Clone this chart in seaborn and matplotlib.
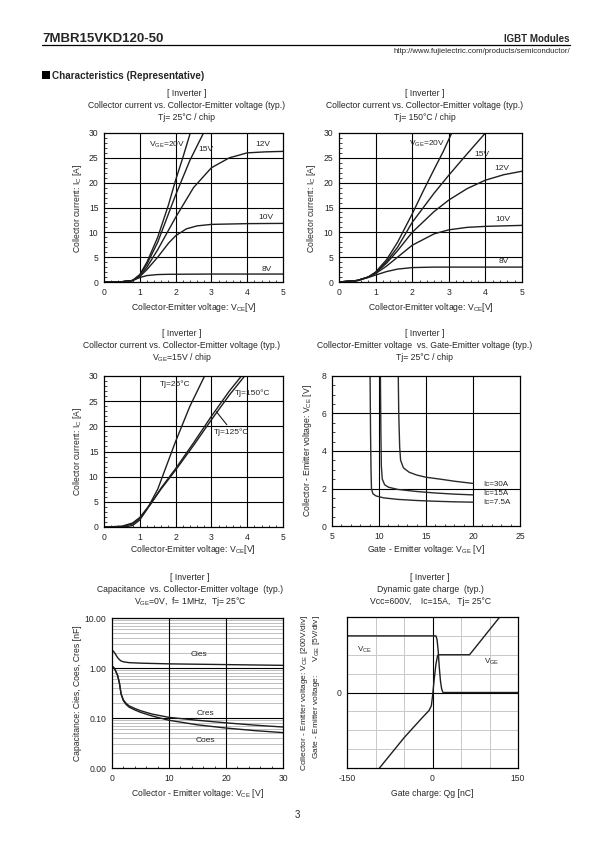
"""Datasheet page: IGBT module characteristics (6 panels)."""
import numpy as np
import pandas as pd
import matplotlib
matplotlib.use("Agg")
import matplotlib.pyplot as plt
import seaborn as sns
from matplotlib.ticker import MultipleLocator, FixedLocator, NullLocator

W, H = 595, 842

# ---- panel 1: Ic vs Vce, Tj=25C ----
vce_25 = {
    "20V": ([0, 0.5, 0.8, 1.0, 1.2, 1.5, 1.8, 2.0, 2.2, 2.41],
            [0, 0.05, 0.3, 1.5, 4.0, 9.0, 15.5, 20.5, 25.0, 30.0]),
    "15V": ([0, 0.5, 0.8, 1.0, 1.2, 1.5, 2.0, 2.4, 2.78],
            [0, 0.05, 0.3, 1.4, 3.6, 8.0, 17.5, 24.5, 30.0]),
    "12V": ([0, 0.5, 0.8, 1.0, 1.2, 1.5, 2.0, 2.5, 3.0, 3.5, 4.0, 4.5, 5.0],
            [0, 0.05, 0.3, 1.2, 3.0, 6.5, 13.0, 19.0, 23.0, 25.0, 26.0, 26.2, 26.3]),
    "10V": ([0, 0.5, 0.8, 1.0, 1.2, 1.5, 1.8, 2.0, 2.3, 2.6, 3.0, 4.0, 5.0],
            [0, 0.05, 0.3, 1.1, 2.5, 5.0, 7.8, 9.3, 10.7, 11.3, 11.6, 11.75, 11.8]),
    "8V": ([0, 0.5, 0.8, 1.0, 1.2, 1.5, 1.8, 3.0, 5.0],
           [0, 0.05, 0.3, 0.9, 1.3, 1.5, 1.55, 1.6, 1.6]),
}

# ---- panel 2: Ic vs Vce, Tj=150C ----
vce_150 = {
    "20V": ([0, 0.5, 0.8, 1.0, 1.3, 1.6, 2.0, 2.3, 2.6, 2.85, 3.08],
            [0, 0.3, 1.0, 2.0, 4.5, 8.0, 13.7, 18.3, 22.7, 26.3, 30.0]),
    "15V": ([0, 0.5, 0.8, 1.0, 1.3, 1.6, 2.0, 2.6, 3.0, 3.5, 4.0],
            [0, 0.3, 1.0, 1.9, 4.1, 7.0, 12.0, 17.9, 21.5, 25.8, 30.0]),
    "12V": ([0, 0.5, 0.8, 1.0, 1.3, 1.6, 2.0, 2.6, 3.0, 3.5, 4.0, 4.5, 5.0],
            [0, 0.3, 1.0, 1.8, 3.8, 6.3, 10.0, 14.2, 16.5, 18.8, 20.5, 21.6, 22.3]),
    "10V": ([0, 0.5, 0.8, 1.0, 1.3, 1.6, 2.0, 2.6, 3.0, 3.5, 4.0, 5.0],
            [0, 0.3, 1.0, 1.7, 3.2, 5.0, 7.4, 9.7, 10.5, 11.0, 11.2, 11.4]),
    "8V": ([0, 0.5, 0.8, 1.0, 1.3, 1.6, 2.0, 2.6, 3.0, 5.0],
           [0, 0.3, 0.9, 1.4, 2.1, 2.6, 2.9, 3.0, 3.0, 3.0]),
}
labels_25 = [("V$_{\\mathregular{GE}}$=20V", 1.75, 27.6), ("15V", 2.86, 26.6),
             ("12V", 4.44, 27.6), ("10V", 4.53, 12.9), ("8V", 4.55, 2.5)]
labels_150 = [("V$_{\\mathregular{GE}}$=20V", 2.4, 27.9), ("15V", 3.9, 25.6),
              ("12V", 4.44, 22.9), ("10V", 4.49, 12.5), ("8V", 4.49, 4.2)]

# ---- panel 3: Ic vs Vce, Vge=15V ----
tj_curves = {
    "25": ([0, 0.6, 0.8, 1.0, 1.2, 1.5, 2.0, 2.4, 2.81],
           [0, 0.05, 0.3, 1.4, 3.5, 7.5, 17.0, 24.0, 30.0]),
    "125": ([0, 0.5, 0.8, 1.0, 1.3, 1.6, 2.0, 2.5, 3.0, 3.5, 3.84],
            [0, 0.1, 0.6, 1.7, 4.5, 7.8, 11.6, 16.7, 22.0, 27.0, 30.0]),
    "150": ([0, 0.5, 0.8, 1.0, 1.3, 1.6, 2.0, 2.5, 3.0, 3.5, 3.93],
            [0, 0.15, 0.8, 1.9, 4.6, 7.6, 11.3, 16.2, 21.3, 26.2, 30.0]),
}

# ---- panel 4: Vce vs Vge ----
vge_curves = {
    "Ic=30A": ([12.05, 12.1, 12.2, 12.3, 12.6, 13.2, 14, 15, 16.5, 18, 20],
               [8, 6, 4.2, 3.5, 3.1, 2.87, 2.72, 2.6, 2.5, 2.39, 2.27]),
    "Ic=15A": ([10.15, 10.2, 10.25, 10.35, 10.6, 11, 12, 14, 16, 18, 20],
               [8, 5, 3.2, 2.5, 2.2, 2.07, 1.95, 1.84, 1.76, 1.70, 1.66]),
    "Ic=7.5A": ([9.05, 9.1, 9.15, 9.2, 9.35, 9.7, 10.5, 12, 14, 16, 18, 20],
                [8, 5, 3, 2.0, 1.72, 1.6, 1.5, 1.42, 1.36, 1.32, 1.29, 1.27]),
}
ic_labels = [("Ic=30A", 2.22), ("Ic=15A", 1.74), ("Ic=7.5A", 1.24)]

# ---- panel 5: capacitance ----
cies_v = [0.2, 0.6, 1.0, 1.5, 2.0, 3, 5, 10, 15, 20, 25, 30]
cies_c = [2.2, 1.9, 1.6, 1.4, 1.33, 1.28, 1.25, 1.21, 1.19, 1.17, 1.15, 1.13]
cap_v = [0.2, 0.5, 1.0, 1.3, 1.6, 2.0, 2.5, 3, 4, 5, 7, 10, 15, 20, 25, 30]
cres_c = [1.05, 0.95, 0.7, 0.5, 0.3, 0.23, 0.195, 0.175, 0.155, 0.14, 0.12,
          0.103, 0.09, 0.08, 0.072, 0.066]
coes_c = [1.05, 0.95, 0.7, 0.5, 0.3, 0.22, 0.185, 0.165, 0.145, 0.13, 0.11,
          0.09, 0.073, 0.063, 0.056, 0.051]

# ---- panel 6: gate charge (volts) ----
qg_vge = [-93, -50, -20, -6, -2, 0, 3, 6, 9, 11, 65, 118]
vge_v = [-20, -12, -7, -4.75, -3.5, -1, 3.5, 7.5, 9.8, 10, 10, 20]
qg_vce = [-150, 6, 8, 10, 12, 14, 16, 18, 20, 150]
vce_v = [600, 600, 560, 440, 260, 120, 40, 4, 0, 0]

LINE = "#1e1e1e"
FS = 6.2

sns.set_style("ticks")
plt.rcParams["font.family"] = ["Liberation Sans", "DejaVu Sans"]
plt.rcParams["mathtext.fontset"] = "custom"
plt.rcParams["mathtext.rm"] = "Liberation Sans"
plt.rcParams["mathtext.it"] = "Liberation Sans"
plt.rcParams["axes.edgecolor"] = "black"
plt.rcParams["axes.linewidth"] = 0.8
plt.rcParams["axes.unicode_minus"] = False

fig = plt.figure(figsize=(W / 100, H / 100), dpi=100)
fig.patch.set_facecolor("white")


def px_axes(l, t, r, b):
    return fig.add_axes([l / W, 1 - b / H, (r - l) / W, (b - t) / H])


def ftext(x, y, s, **kw):
    kw.setdefault("fontsize", FS)
    fig.text(x / W, 1 - y / H, s, **kw)


def curve(ax, x, y, lw=1.0, color=LINE):
    sns.lineplot(x=np.asarray(x, float), y=np.asarray(y, float), ax=ax,
                 color=color, lw=lw, sort=False, estimator=None, legend=False)


def style(ax):
    ax.tick_params(which="both", direction="in", labelsize=FS, pad=4)
    ax.tick_params(which="major", length=2.5, width=0.6)
    ax.tick_params(which="minor", length=1.8, width=0.6)
    ax.set_xlabel("")
    ax.set_ylabel("")
    for s in ax.spines.values():
        s.set_visible(True)
        s.set_linewidth(0.9)


def titles(cx, y0, cond):
    ftext(cx, y0, "[ Inverter ]", ha="center", va="center")
    ftext(cx, y0 + 12.5, cond[0], ha="center", va="center")
    ftext(cx, y0 + 25, cond[1], ha="center", va="center")


# header
ftext(42, 42, "7MBR15VKD120-50", fontsize=9.5, fontweight="bold", va="baseline")
ftext(570, 42, "IGBT Modules", fontsize=7, fontweight="bold", va="baseline", ha="right")
fig.add_artist(plt.Line2D([42 / W, 570 / W], [1 - 44.5 / H, 1 - 44.5 / H],
                          color="black", lw=0.9))
ftext(570, 53, "http://www.fujielectric.com/products/semiconductor/",
      fontsize=5.6, va="baseline", ha="right")
fig.add_artist(plt.Rectangle((42 / W, 1 - 79 / H), 8 / W, 8.5 / H,
                             color="black", lw=0))
ftext(52, 79, "Characteristics (Representative)", fontsize=7.1,
      fontweight="bold", va="baseline")
ftext(297, 815, "3", fontsize=7, ha="center", va="center")

# ---- panels 1 & 2 ----
for (l, r), data, labs, tj, cx, ylx in [
        ((104, 283), vce_25, labels_25, "Tj= 25°C / chip", 187, 77),
        ((339, 522), vce_150, labels_150, "Tj= 150°C / chip", 425, 312)]:
    ax = px_axes(l, 133, r, 282)
    ax.grid(False)
    for v in [1, 2, 3, 4]:
        ax.axvline(v, color="black", lw=0.8, zorder=1)
    for v in [5, 10, 15, 20, 25]:
        ax.axhline(v, color="black", lw=0.8, zorder=1)
    for k, (x, y) in data.items():
        curve(ax, x, y)
    for s, x, y in labs:
        ax.text(x, y, s, fontsize=FS - 0.2, ha="center", va="center")
    ax.set_xlim(0, 5)
    ax.set_ylim(0, 30)
    ax.xaxis.set_major_locator(MultipleLocator(1))
    ax.xaxis.set_minor_locator(MultipleLocator(0.2))
    ax.yaxis.set_major_locator(MultipleLocator(5))
    ax.yaxis.set_minor_locator(MultipleLocator(1))
    style(ax)
    titles(cx, 93, ["Collector current vs. Collector-Emitter voltage (typ.)", tj])
    ftext(ylx, 208, "Collector current: I$_{\\mathregular{C}}$ [A]",
          rotation=90, ha="center", va="center")
    ftext((l + r) / 2, 307, "Collector-Emitter voltage: V$_{\\mathregular{CE}}$[V]",
          ha="center", va="center")

# ---- panel 3 ----
ax = px_axes(104, 376, 283, 527)
for v in [1, 2, 3, 4]:
    ax.axvline(v, color="black", lw=0.8, zorder=1)
for v in [5, 10, 15, 20, 25]:
    ax.axhline(v, color="black", lw=0.8, zorder=1)
for k, (x, y) in tj_curves.items():
    curve(ax, x, y)
ax.text(1.55, 28.4, "Tj=25°C", fontsize=FS - 0.2, ha="left", va="center")
ax.text(3.65, 26.5, "Tj=150°C", fontsize=FS - 0.2, ha="left", va="center")
ax.annotate("Tj=125°C", xy=(3.14, 22.9), xytext=(3.06, 18.9), fontsize=FS - 0.2,
            ha="left", va="center",
            arrowprops=dict(arrowstyle="-", color=LINE, lw=0.8,
                            shrinkA=0, shrinkB=0, relpos=(0.45, 1.0)))
ax.set_xlim(0, 5)
ax.set_ylim(0, 30)
ax.xaxis.set_major_locator(MultipleLocator(1))
ax.xaxis.set_minor_locator(MultipleLocator(0.2))
ax.yaxis.set_major_locator(MultipleLocator(5))
ax.yaxis.set_minor_locator(MultipleLocator(1))
style(ax)
titles(182, 333, ["Collector current vs. Collector-Emitter voltage (typ.)",
                  "V$_{\\mathregular{GE}}$=15V / chip"])
ftext(77, 451, "Collector current: I$_{\\mathregular{C}}$ [A]",
      rotation=90, ha="center", va="center")
ftext(193, 550, "Collector-Emitter voltage: V$_{\\mathregular{CE}}$[V]",
      ha="center", va="center")

# ---- panel 4 ----
ax = px_axes(332, 376, 520, 526)
for v in [10, 15, 20]:
    ax.axvline(v, color="black", lw=0.8, zorder=1)
for v in [2, 4, 6]:
    ax.axhline(v, color="black", lw=0.8, zorder=1)
for k, (x, y) in vge_curves.items():
    curve(ax, x, y, color="#2a2a2a")
for s, y in ic_labels:
    ax.text(21.1, y, s, fontsize=FS - 0.4, ha="left", va="center")
ax.set_xlim(5, 25)
ax.set_ylim(0, 8)
ax.xaxis.set_major_locator(MultipleLocator(5))
ax.xaxis.set_minor_locator(MultipleLocator(1))
ax.yaxis.set_major_locator(MultipleLocator(2))
ax.yaxis.set_minor_locator(MultipleLocator(0.5))
style(ax)
titles(425, 333, ["Collector-Emitter voltage  vs. Gate-Emitter voltage (typ.)",
                  "Tj= 25°C / chip"])
ftext(307, 451, "Collector - Emitter voltage: V$_{\\mathregular{CE}}$ [V]",
      rotation=90, ha="center", va="center")
ftext(426, 550, "Gate - Emitter voltage: V$_{\\mathregular{GE}}$ [V]",
      ha="center", va="center")

# ---- panel 5 ----
ax = px_axes(112, 618, 283, 768)
ax.set_yscale("log")
for dec in [0.01, 0.1, 1]:
    for m in range(2, 10):
        ax.axhline(dec * m, color="#b4b4b4", lw=0.6, zorder=1)
for v in [0.1, 1]:
    ax.axhline(v, color="black", lw=0.8, zorder=1)
for v in [10, 20]:
    ax.axvline(v, color="black", lw=0.8, zorder=1)
curve(ax, cies_v, cies_c)
curve(ax, cap_v, cres_c)
curve(ax, cap_v, coes_c)
ax.text(15.2, 1.85, "Cies", fontsize=FS - 0.2, ha="center", va="center")
ax.text(16.4, 0.122, "Cres", fontsize=FS - 0.2, ha="center", va="center")
ax.text(16.4, 0.036, "Coes", fontsize=FS - 0.2, ha="center", va="center")
ax.set_xlim(0, 30)
ax.set_ylim(0.01, 10)
ax.xaxis.set_major_locator(MultipleLocator(10))
ax.xaxis.set_minor_locator(MultipleLocator(2))
ax.yaxis.set_major_locator(FixedLocator([0.01, 0.1, 1, 10]))
ax.yaxis.set_minor_locator(NullLocator())
ax.set_yticklabels(["0.00", "0.10", "1.00", "10.00"])
style(ax)
titles(190, 577, ["Capacitance  vs. Collector-Emitter voltage  (typ.)",
                  "V$_{\\mathregular{GE}}$=0V,  f= 1MHz,  Tj= 25°C"])
ftext(78, 693, "Capacitance: Cies, Coes, Cres [nF]",
      rotation=90, ha="center", va="center")
ftext(197, 793, "Collector - Emitter voltage: V$_{\\mathregular{CE}}$ [V]",
      ha="center", va="center")

# ---- panel 6 ----
ax = px_axes(347, 617, 518, 768)
for v in [-100, -50, 50, 100]:
    ax.axvline(v, color="#c8c8c8", lw=0.7, zorder=1)
for v in [-3, -2, -1, 1, 2, 3]:
    ax.axhline(v, color="#c8c8c8", lw=0.7, zorder=1)
ax.axvline(0, color="black", lw=0.8, zorder=1)
ax.axhline(0, color="black", lw=0.8, zorder=1)
curve(ax, qg_vce, np.asarray(vce_v) / 200.0)
curve(ax, qg_vge, np.asarray(vge_v) / 5.0)
ax.text(-119, 2.25, "V$_{\\mathregular{CE}}$", fontsize=FS - 0.4, ha="center", va="center")
ax.text(103, 1.63, "V$_{\\mathregular{GE}}$", fontsize=FS - 0.4, ha="center", va="center")
ax.set_xlim(-150, 150)
ax.set_ylim(-4, 4)
ax.xaxis.set_major_locator(FixedLocator([-150, 0, 150]))
ax.yaxis.set_major_locator(FixedLocator([0]))
style(ax)
ax.tick_params(which="major", length=0)
titles(430, 577, ["Dynamic gate charge  (typ.)",
                  "Vcc=600V,    Ic=15A,   Tj= 25°C"])
ftext(304, 615, "Collector - Emitter voltage: V$_{\\mathregular{CE}}$ [200V/div]",
      rotation=90, ha="center", va="top", fontsize=FS - 0.2)
ftext(317, 615, "Gate - Emitter voltage:      V$_{\\mathregular{GE}}$ [5V/div]",
      rotation=90, ha="center", va="top", fontsize=FS - 0.2)
ftext(432, 793, "Gate charge: Qg [nC]", ha="center", va="center")

fig.savefig("out.png", dpi=100, facecolor="white")
plt.close(fig)
